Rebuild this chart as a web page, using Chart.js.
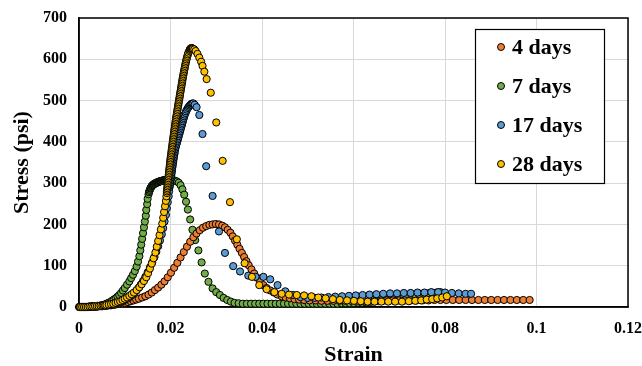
<!DOCTYPE html>
<html>
<head>
<meta charset="utf-8">
<script src="https://cdn.jsdelivr.net/npm/chart.js@4.4.1/dist/chart.umd.min.js"></script>
<style>
  body { margin: 0; background: #fff; }
</style>
</head>
<body>
<canvas id="stressChart" width="642" height="366"></canvas>
<script>
const seriesNames = ['4 days', '7 days', '17 days', '28 days'];
const seriesColors = ['#ED7D31', '#70AD47', '#5B9BD5', '#FFC000'];
const xTicks = [0, 0.02, 0.04, 0.06, 0.08, 0.1, 0.12];
const yTicks = [0, 100, 200, 300, 400, 500, 600, 700];

// [strain, stress]
const days4 = [
  [0,0],[0.0004,0],[0.0008,0],[0.0012,0],[0.0016,0],[0.002,0],[0.0024,1],[0.0028,1],[0.0032,1],[0.0036,1],
  [0.004,1],[0.0044,2],[0.0048,2],[0.0052,2],[0.0056,3],[0.006,3],[0.0065,4],[0.007,4],[0.0075,5],[0.008,6],
  [0.0085,7],[0.009,8],[0.0095,9],[0.0101,10],[0.0107,12],[0.0113,14],[0.0119,16],[0.0125,18],[0.0131,20],[0.0138,23],
  [0.0145,26],[0.0152,30],[0.0159,35],[0.0166,41],[0.0173,47],[0.018,54],[0.0187,62],[0.0194,72],[0.0201,83],[0.0208,95],
  [0.0215,107],[0.0222,120],[0.0229,133],[0.0236,146],[0.0243,158],[0.025,169],[0.0257,178],[0.0264,186],[0.0271,192],[0.0278,196],
  [0.0285,199],[0.0292,200],[0.0299,201],[0.0306,200],[0.0313,197],[0.0319,193],[0.0325,187],[0.0331,180],[0.0336,171],[0.0341,161],
  [0.0346,151],[0.0351,141],[0.0356,131],[0.0361,121],[0.0366,111],[0.0371,101],[0.0377,91],[0.0383,81],[0.0389,71],[0.0396,62],
  [0.0403,53],[0.041,46],[0.0418,40],[0.0426,35],[0.0434,30],[0.0443,26],[0.0452,23],[0.0461,21],[0.0471,19],[0.0481,18],
  [0.0492,17],[0.0504,16],[0.0517,16],[0.053,15],[0.0543,15],[0.0556,15],[0.0569,15],[0.0582,15],[0.0595,15],[0.0608,15],
  [0.0621,15],[0.0634,15],[0.0647,15],[0.066,16],[0.0673,16],[0.0686,16],[0.0699,16],[0.0712,16],[0.0725,16],[0.0738,16],
  [0.0751,16],[0.0764,16],[0.0777,17],[0.079,17],[0.0803,17],[0.0817,17],[0.0831,17],[0.0845,17],[0.0859,17],[0.0873,17],
  [0.0887,17],[0.0901,17],[0.0915,17],[0.0929,17],[0.0943,17],[0.0957,17],[0.0971,17],[0.0985,17]
];

const days7 = [
  [0.0001,0],[0.0005,0],[0.0009,0],[0.0013,0],[0.0017,0],[0.0021,1],[0.0025,1],[0.0029,1],[0.0033,2],[0.0037,2],
  [0.0041,3],[0.0045,3],[0.0049,4],[0.0052,5],[0.0056,6],[0.006,8],[0.0064,10],[0.0068,12],[0.0072,15],[0.0076,18],
  [0.008,21],[0.0084,25],[0.0088,29],[0.0092,34],[0.0096,40],[0.01,46],[0.0105,54],[0.011,62],[0.0114,70],[0.0118,78],
  [0.0122,87],[0.0126,98],[0.0129,110],[0.0132,123],[0.0134,137],[0.0136,151],[0.0138,165],[0.014,179],[0.0142,193],[0.0144,207],
  [0.0146,221],[0.0147,235],[0.0149,249],[0.015,262],[0.0152,273],[0.0153,278],[0.0154,281],[0.0155,284],[0.0156,287],[0.0157,289],
  [0.0158,291],[0.0159,293],[0.016,294],[0.0161,295],[0.0162,296],[0.0163,297],[0.0164,298],[0.0165,298],[0.0166,299],[0.0167,300],
  [0.0168,300],[0.0169,301],[0.017,301],[0.0171,302],[0.0172,302],[0.0173,303],[0.0174,303],[0.0175,304],[0.0176,304],[0.0177,304],
  [0.0178,305],[0.0179,305],[0.018,305],[0.0181,306],[0.0182,306],[0.0183,306],[0.0184,306],[0.0185,307],[0.0186,307],[0.0187,307],
  [0.0188,307],[0.0189,307],[0.019,307],[0.0191,308],[0.0192,308],[0.0193,308],[0.0194,308],[0.0195,308],[0.0196,308],[0.0197,308],
  [0.0198,308],[0.0199,308],[0.02,308],[0.0202,307],[0.0204,307],[0.0206,307],[0.0208,306],[0.021,306],[0.0214,304],[0.0218,301],
  [0.0222,295],[0.0226,285],[0.023,272],[0.0234,255],[0.0238,236],[0.0243,212],[0.0248,187],[0.0254,162],[0.0261,137],[0.0268,108],
  [0.0275,81],[0.0283,61],[0.0292,45],[0.03,36],[0.0308,29],[0.0316,22],[0.0324,17],[0.0332,13],[0.034,10],[0.0349,9],
  [0.0358,8],[0.0367,8],[0.0376,8],[0.0385,8],[0.0394,8],[0.0403,8],[0.0412,8],[0.0421,8],[0.043,8],[0.0439,8],
  [0.0448,8],[0.0457,8],[0.0466,8],[0.0475,8],[0.0484,8],[0.0493,8],[0.0502,8],[0.0511,8],[0.052,8],[0.0529,8],
  [0.0538,8],[0.0547,8],[0.0556,8],[0.0565,8],[0.0574,9],[0.0583,9],[0.0592,9],[0.0601,9],[0.061,10],[0.0619,10],
  [0.0628,11],[0.0637,12],[0.0646,13],[0.0655,14],[0.0664,15],[0.0673,17],[0.0682,18],[0.0691,20],[0.07,21],[0.0709,23],
  [0.0718,25],[0.0727,27],[0.0736,28],[0.0745,30],[0.0754,31],[0.0763,33],[0.0772,34],[0.0781,35],[0.079,36]
];

const days17 = [
  [0.0002,0],[0.0006,0],[0.001,0],[0.0014,0],[0.0018,0],[0.0022,0],[0.0026,1],[0.003,1],[0.0034,1],[0.0038,1],
  [0.0042,2],[0.0046,2],[0.005,2],[0.0054,3],[0.0058,3],[0.0062,4],[0.0066,5],[0.007,6],[0.0075,7],[0.008,8],
  [0.0085,10],[0.009,12],[0.0095,14],[0.01,17],[0.0105,20],[0.011,24],[0.0115,28],[0.012,33],[0.0125,39],[0.013,46],
  [0.0135,54],[0.014,63],[0.0145,73],[0.015,84],[0.0155,96],[0.016,108],[0.0165,121],[0.0169,134],[0.0173,147],[0.0177,161],
  [0.0181,176],[0.0184,191],[0.0187,207],[0.019,223],[0.0192,239],[0.0194,254],[0.0196,268],[0.0197,280],[0.0198,290],[0.01985,294],
  [0.0199,298],[0.01995,302],[0.02,306],[0.02005,310],[0.0201,314],[0.02015,318],[0.0202,322],[0.02025,326],[0.0203,330],[0.02035,334],
  [0.0204,338],[0.02045,342],[0.0205,346],[0.02055,350],[0.0206,354],[0.02066,358],[0.02072,362],[0.02078,366],[0.02084,370],[0.0209,374],
  [0.02096,378],[0.021,382],[0.0211,386],[0.0212,390],[0.0213,394],[0.0214,398],[0.0215,402],[0.0216,406],[0.0217,410],[0.0218,414],
  [0.0219,418],[0.022,422],[0.0221,426],[0.0222,430],[0.0223,434],[0.0224,438],[0.0225,442],[0.0226,446],[0.0227,450],[0.0228,454],
  [0.0229,458],[0.023,462],[0.0231,466],[0.0233,470],[0.0234,474],[0.0236,478],[0.0238,482],[0.024,485],[0.0242,488],[0.0244,490],
  [0.0246,492],[0.0248,493],[0.025,493],[0.0253,490],[0.0257,484],[0.0263,465],[0.027,419],[0.0278,341],[0.0292,269],[0.0306,183],
  [0.0319,131],[0.0337,99],[0.0352,86],[0.037,76],[0.0386,73],[0.0403,73],[0.0418,67],[0.0434,53],[0.0451,38],[0.0468,29],
  [0.0484,24],[0.05,22],[0.0515,22],[0.053,23],[0.0545,24],[0.056,25],[0.0575,26],[0.059,27],[0.0605,28],[0.062,29],
  [0.0635,30],[0.065,31],[0.0665,32],[0.068,33],[0.0695,33],[0.071,34],[0.0725,34],[0.074,35],[0.0755,35],[0.077,36],
  [0.0785,36],[0.08,35],[0.0815,34],[0.083,33],[0.0845,32],[0.0857,32]
];

const days28 = [
  [0.0003,0],[0.0007,0],[0.0011,0],[0.0015,0],[0.0019,0],[0.0023,1],[0.0027,1],[0.0031,1],[0.0035,2],[0.0039,2],
  [0.0043,2],[0.0047,3],[0.0051,3],[0.0054,4],[0.0057,4],[0.006,5],[0.0065,6],[0.007,7],[0.0075,8],[0.008,10],
  [0.0085,12],[0.009,14],[0.0095,17],[0.01,20],[0.0105,23],[0.011,27],[0.0115,31],[0.012,35],[0.0126,41],[0.0132,48],
  [0.0137,55],[0.0142,63],[0.0147,72],[0.0151,82],[0.0155,93],[0.0159,105],[0.0163,118],[0.0167,132],[0.017,146],[0.0173,160],
  [0.0176,174],[0.0179,188],[0.0182,202],[0.0184,216],[0.0186,230],[0.0188,244],[0.019,257],[0.0191,268],[0.0192,276],[0.01922,280],
  [0.01926,284],[0.0193,288],[0.01934,292],[0.01938,296],[0.01942,300],[0.01946,304],[0.0195,308],[0.01954,312],[0.01958,316],[0.01962,320],
  [0.01966,324],[0.0197,328],[0.01974,332],[0.01978,336],[0.01982,340],[0.01986,344],[0.0199,348],[0.01994,352],[0.01998,356],[0.02002,360],
  [0.02007,364],[0.02012,368],[0.02017,372],[0.02022,376],[0.02026,380],[0.02031,384],[0.02036,388],[0.02041,392],[0.02046,396],[0.0205,400],
  [0.02055,404],[0.0206,408],[0.02065,412],[0.0207,416],[0.02075,420],[0.0208,424],[0.02085,428],[0.0209,432],[0.02095,436],[0.021,440],
  [0.02105,444],[0.0211,448],[0.02115,452],[0.0212,456],[0.02126,460],[0.02132,464],[0.02138,468],[0.02144,472],[0.0215,476],[0.02156,480],
  [0.02162,484],[0.02168,488],[0.02174,492],[0.0218,496],[0.02186,500],[0.02192,504],[0.02198,508],[0.02204,512],[0.0221,516],[0.02216,520],
  [0.02222,524],[0.02228,528],[0.02234,532],[0.0224,536],[0.02246,540],[0.02252,544],[0.02258,548],[0.02264,552],[0.0227,556],[0.02277,560],
  [0.02284,564],[0.02291,568],[0.02298,572],[0.02305,576],[0.02312,580],[0.02319,584],[0.02326,588],[0.02334,592],[0.02342,596],[0.0235,600],
  [0.0236,604],[0.0237,608],[0.0238,612],[0.0239,616],[0.0241,620],[0.0242,623],[0.0243,625],[0.0244,626],[0.0245,627],[0.0246,627],
  [0.0247,627],[0.0248,626],[0.0249,625],[0.0252,624],[0.0255,620],[0.0259,613],[0.0263,604],[0.0267,594],[0.027,584],[0.0274,570],
  [0.0279,552],[0.0288,519],[0.03,447],[0.0314,354],[0.033,254],[0.0345,164],[0.0362,106],[0.0378,73],[0.0394,53],[0.041,43],
  [0.0427,36],[0.0443,32],[0.0459,30],[0.0476,29],[0.0492,28],[0.0508,26],[0.0523,23],[0.0539,21],[0.0555,19],[0.057,17],
  [0.0586,16],[0.0601,15],[0.0616,14],[0.0631,13],[0.0646,13],[0.0661,13],[0.0676,13],[0.0691,13],[0.0706,13],[0.0721,14],
  [0.0735,15],[0.0748,16],[0.076,18],[0.0772,19],[0.0783,21],[0.0794,23],[0.0804,26]
];

const allSeries = [days4, days7, days17, days28];
// yellow on top, then blue, orange, green at the bottom
const drawOrder = [2, 3, 1, 0];

const serif = "'Liberation Serif', 'Times New Roman', serif";

const frameAndLegend = {
    id: 'frameAndLegend',
    beforeDatasetsDraw(chart) {
        const a = chart.chartArea;
        const ctx = chart.ctx;
        ctx.save();
        ctx.strokeStyle = '#000';
        ctx.lineWidth = 1.5;
        ctx.strokeRect(a.left, a.top, a.right - a.left, a.bottom - a.top);
        ctx.restore();
    },
    afterDraw(chart) {
        const ctx = chart.ctx;
        ctx.save();
        ctx.fillStyle = '#fff';
        ctx.fillRect(475, 29, 129, 154);
        ctx.strokeStyle = '#000';
        ctx.lineWidth = 1.2;
        ctx.strokeRect(475.5, 29.5, 129, 154);
        ctx.font = 'bold 22px ' + serif;
        ctx.textBaseline = 'middle';
        ctx.textAlign = 'left';
        for (let i = 0; i < seriesNames.length; i++) {
            const y = 47 + i * 39;
            ctx.beginPath();
            ctx.arc(501, y, 3.5, 0, Math.PI * 2);
            ctx.fillStyle = seriesColors[i];
            ctx.fill();
            ctx.lineWidth = 1;
            ctx.strokeStyle = '#000';
            ctx.stroke();
            ctx.fillStyle = '#000';
            ctx.fillText(seriesNames[i], 512, y + 1);
        }
        ctx.restore();
    }
};

const datasets = allSeries.map(function(s, i) {
    return {
        label: seriesNames[i],
        data: s.map(p => ({x: p[0], y: p[1]})),
        backgroundColor: seriesColors[i],
        borderColor: '#000',
        borderWidth: 1,
        pointRadius: 3.6,
        showLine: false,
        clip: false,
        order: drawOrder[i]
    };
});

function fixTicks(list) {
    return function(scale) {
        scale.ticks = list.map(v => ({value: v}));
    };
}

// invisible tick marks give the label gap without adding edge padding
const gridOpts = {
    color: '#d9d9d9',
    lineWidth: 1,
    drawTicks: true,
    tickLength: 12,
    tickColor: 'rgba(0,0,0,0)'
};

window.onload = function() {
    const ctx = document.getElementById('stressChart').getContext('2d');
    new Chart(ctx, {
        type: 'scatter',
        data: {datasets: datasets},
        options: {
            responsive: false,
            animation: false,
            devicePixelRatio: 1,
            layout: {padding: {left: 0, top: 18, right: 14, bottom: 0}},
            plugins: {legend: {display: false}, tooltip: {enabled: false}},
            scales: {
                x: {
                    type: 'linear',
                    min: 0,
                    max: 0.12,
                    afterBuildTicks: fixTicks(xTicks),
                    afterFit: function(scale) { scale.height = 59; },
                    grid: gridOpts,
                    border: {color: '#000', width: 1.5},
                    ticks: {
                        padding: 0,
                        color: '#000',
                        font: {family: serif, size: 16, weight: 'bold'},
                        maxRotation: 0,
                        autoSkip: false,
                        callback: v => String(parseFloat(v.toFixed(2)))
                    },
                    title: {
                        display: true,
                        text: 'Strain',
                        color: '#000',
                        font: {family: serif, size: 22, weight: 'bold', lineHeight: 1},
                        padding: {top: 0, bottom: 0}
                    }
                },
                y: {
                    type: 'linear',
                    min: 0,
                    max: 700,
                    afterBuildTicks: fixTicks(yTicks),
                    afterFit: function(scale) { scale.width = 79; },
                    grid: gridOpts,
                    border: {color: '#000', width: 1.5},
                    ticks: {
                        padding: 0,
                        color: '#000',
                        font: {family: serif, size: 16, weight: 'bold'},
                        autoSkip: false
                    },
                    title: {
                        display: true,
                        text: 'Stress (psi)',
                        color: '#000',
                        font: {family: serif, size: 22, weight: 'bold', lineHeight: 1},
                        padding: {top: 11, bottom: 0}
                    }
                }
            }
        },
        plugins: [frameAndLegend]
    });
};
</script>
</body>
</html>
